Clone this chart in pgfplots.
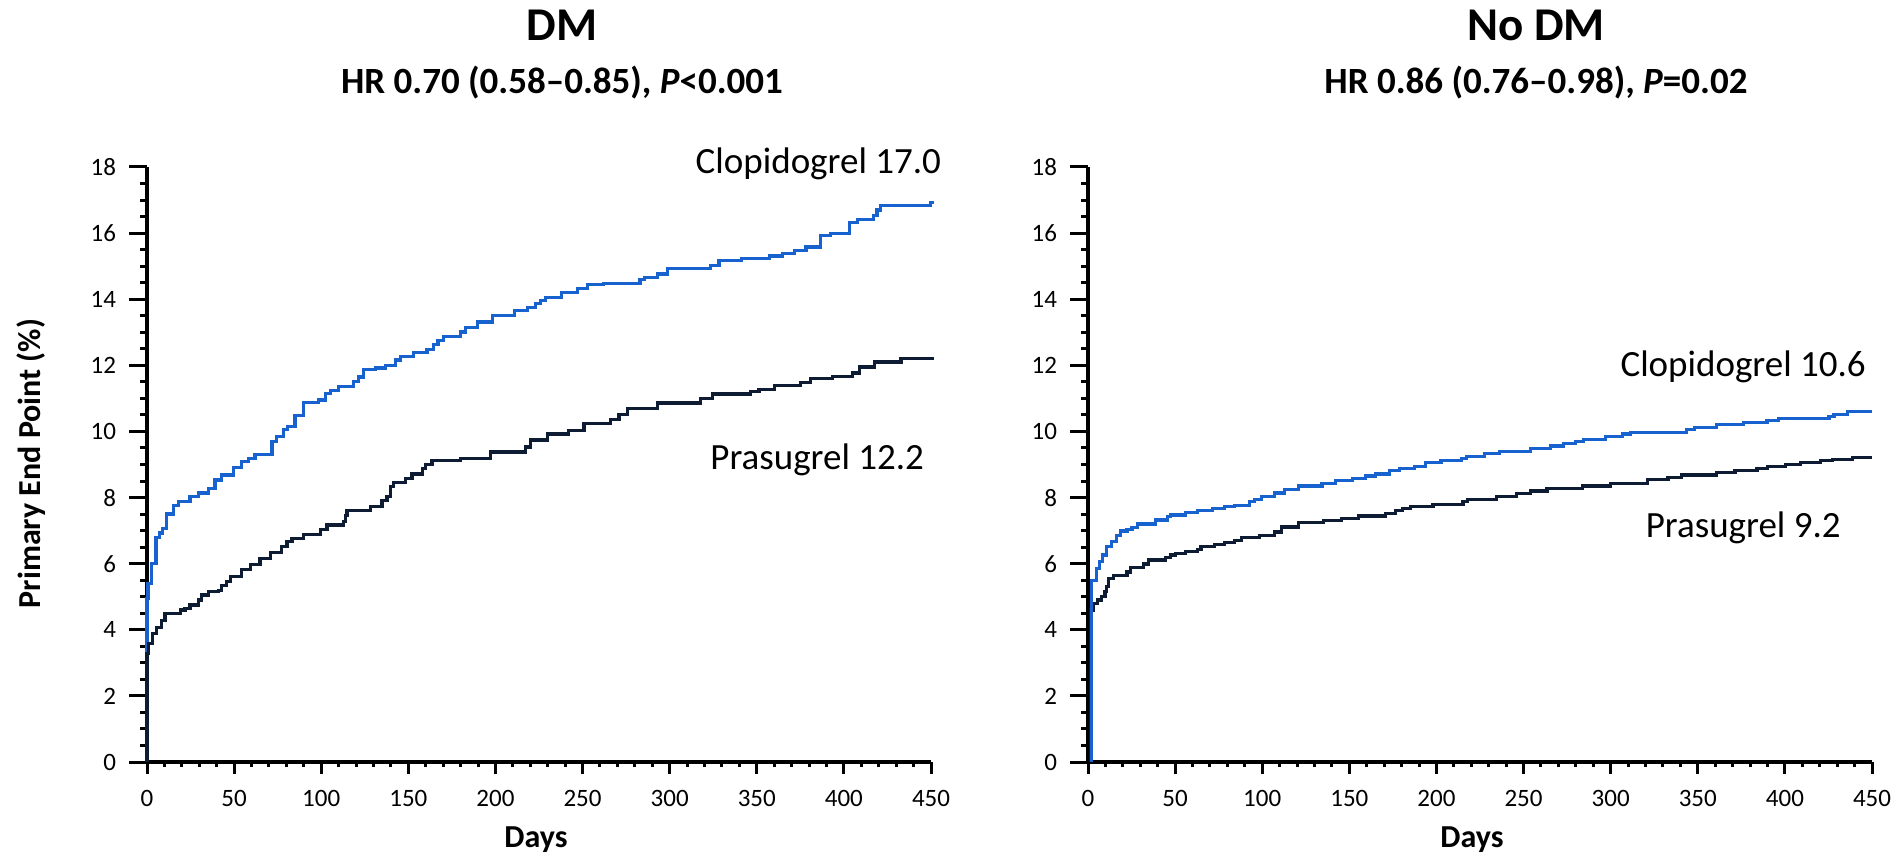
\documentclass[border=0pt]{standalone}
\usepackage{pgfplots}
\pgfplotsset{compat=1.18}
\usepackage{fontspec}
\setmainfont{Carlito}

\definecolor{clopi}{HTML}{1762CF}
\definecolor{prasu}{HTML}{0D1B33}

\pgfplotsset{
  km/.style={
    scale only axis,
    width=392bp, height=297.5bp,
    anchor=south west,
    xmin=0, xmax=450, ymin=0, ymax=18,
    axis lines=left,
    axis line style={-, line width=1.7bp, black},
    xtick={0,50,...,450}, ytick={0,2,...,18},
    minor x tick num=4, minor y tick num=3,
    tick align=outside,
    major tick length=9bp, minor tick length=3.5bp,
    xtick style={/pgfplots/major tick length=6bp, /pgfplots/minor tick length=2.5bp},
    tick style={line width=1.5bp, black},
    tick label style={font=\fontsize{12.5bp}{14bp}\selectfont},
    yticklabel style={xshift=-3bp},
    xticklabel style={yshift=-1.5bp},
    /pgf/number format/assume math mode=true,
    clip=false,
  },
  kmline/.style={const plot, no marks, line width=1.6bp},
}

\begin{document}
\begin{tikzpicture}
\path[use as bounding box] (0,0) rectangle (947.5bp,427bp);

% DM
\begin{axis}[km, at={(73.5bp,46bp)}]
\addplot[kmline, clopi] coordinates {
(0,0)(0,4.95)(0.6,5.4)(2.7,6.0)(5.2,6.8)(7,6.93)(9,7.07)(11.3,7.5)(15.1,7.77)(18,7.87)
(24.7,8.02)(29.5,8.14)(35.2,8.28)(39,8.53)(42.9,8.68)(49.6,8.92)(54.4,9.08)(58.2,9.19)
(62,9.31)(71.7,9.69)(74.5,9.84)(78.4,10.06)(80.5,10.15)(85,10.49)(89.8,10.87)(98.5,10.95)
(102.3,11.15)(105.2,11.25)(110,11.35)(118.6,11.5)(121.4,11.65)(124.3,11.87)(131,11.92)
(136.8,12.0)(142.5,12.16)(145.4,12.26)(153.1,12.38)(160.7,12.48)(164.6,12.64)(167,12.75)
(170.3,12.88)(179.9,13.01)(182.8,13.14)(189.5,13.31)(198.1,13.5)(210.9,13.65)(218.2,13.75)
(223,13.87)(226,13.95)(228.7,14.05)(237.9,14.2)(247.3,14.32)(252.7,14.44)(261.9,14.48)
(283,14.6)(285.6,14.65)(292.9,14.76)(298.7,14.93)(323.6,15.03)(328.3,15.16)(341.2,15.24)
(357.1,15.31)(364.8,15.38)(371.5,15.48)(378.2,15.58)(386.4,15.92)(392.1,16.0)(403,16.32)
(407.9,16.42)(417,16.54)(419,16.7)(420.9,16.84)(449.6,16.92)(452,16.92)
};
\addplot[kmline, prasu] coordinates {
(0,0)(0,3.29)(0.8,3.59)(3.3,3.89)(5.6,4.07)(8.4,4.27)(10.3,4.5)(19,4.6)(21.8,4.65)
(24.7,4.75)(29.5,4.9)(31.4,5.05)(35.2,5.15)(41,5.2)(42.9,5.35)(45.8,5.45)(47.7,5.6)
(54.4,5.83)(59.2,5.98)(64.9,6.16)(70.7,6.33)(77.4,6.51)(80.3,6.66)(83.2,6.76)(89.8,6.89)
(99.4,7.04)(103.3,7.17)(112.8,7.27)(113.8,7.45)(114.8,7.62)(128.2,7.74)(134.9,7.92)
(137.7,8.02)(139.7,8.33)(141.5,8.46)(148.3,8.58)(152.1,8.71)(157.9,8.88)(159.8,9.01)
(163.6,9.11)(179.9,9.18)(197.1,9.38)(217.2,9.53)(220.1,9.74)(229.7,9.92)(242.1,10.04)
(250.8,10.24)(266.1,10.36)(270.9,10.52)(275.7,10.69)(292.9,10.86)(317.8,11.0)(324.5,11.13)
(346.6,11.2)(351.3,11.27)(360,11.38)(375.3,11.47)(381,11.59)(393.5,11.67)(405,11.77)
(408.8,11.95)(417.4,12.1)(432.8,12.2)(452,12.2)
};
\node[anchor=east, font=\fontsize{18.5bp}{21bp}\selectfont] at (axis cs:459.8,18.11) {Clopidogrel 17.0};
\node[anchor=east, font=\fontsize{18.5bp}{21bp}\selectfont] at (axis cs:450,9.13) {Prasugrel 12.2};
\end{axis}

% No DM
\begin{axis}[km, at={(544bp,46bp)}]
\addplot[kmline, prasu] coordinates {
(1.5,0)(1.5,4.6)(3.1,4.8)(5.4,4.9)(7.9,5.0)(9.8,5.15)(10.8,5.3)(11.7,5.55)(14.6,5.65)
(22.4,5.75)(24.3,5.89)(32,5.99)(34.9,6.11)(44.6,6.19)(47.4,6.26)(50.3,6.31)(56.1,6.36)
(62.9,6.44)(64.8,6.53)(72.5,6.59)(78.3,6.64)(84,6.71)(87.9,6.79)(98.5,6.86)(107.2,6.96)
(111,7.11)(120.7,7.24)(135.2,7.3)(145.6,7.37)(155.3,7.44)(170.7,7.52)(176.5,7.62)
(180.5,7.67)(185.3,7.74)(198,7.8)(215.2,7.87)(218,7.94)(234.4,8.02)(246,8.12)(253.8,8.2)
(263.4,8.28)(283.6,8.35)(300,8.43)(321.3,8.55)(332.9,8.61)(340.6,8.68)(360.9,8.75)
(371.4,8.81)(384,8.88)(389.8,8.95)(400.3,9.01)(409,9.05)(420.6,9.11)(427.3,9.15)
(438.9,9.21)(450,9.21)
};
\addplot[kmline, clopi] coordinates {
(1.8,0)(1.8,5.5)(5,5.86)(6.5,6.06)(8.5,6.26)(10.8,6.53)(13.7,6.66)(16.2,6.86)(18.5,6.99)
(22.4,7.04)(25.3,7.1)(28.2,7.2)(38.8,7.32)(45.5,7.42)(47.4,7.47)(56.1,7.54)(62.9,7.62)
(71.5,7.67)(78.3,7.74)(84,7.77)(92.7,7.87)(95.6,7.94)(99.5,8.04)(107.2,8.14)(113,8.25)
(120.8,8.35)(134.3,8.43)(142,8.51)(151.7,8.58)(159.4,8.65)(165.2,8.71)(172.9,8.81)
(178.7,8.88)(187.2,8.93)(193.9,9.05)(202.6,9.11)(214.2,9.18)(217.1,9.23)(227.7,9.33)
(236.4,9.39)(253.8,9.48)(265.3,9.56)(273,9.64)(279.8,9.69)(284.6,9.76)(297.1,9.84)
(306.7,9.92)(311.6,9.96)(316.4,9.98)(343.4,10.06)(348.2,10.12)(360.7,10.22)(376.2,10.27)
(389.7,10.34)(396.4,10.39)(425.3,10.44)(428.2,10.51)(435.9,10.61)(450,10.61)
};
\node[anchor=east, font=\fontsize{18.5bp}{21bp}\selectfont] at (axis cs:450.5,11.94) {Clopidogrel 10.6};
\node[anchor=east, font=\fontsize{18.5bp}{21bp}\selectfont] at (axis cs:436,7.08) {Prasugrel 9.2};
\end{axis}

% titles and axis labels
\node[anchor=base, font=\bfseries\fontsize{23.5bp}{27bp}\selectfont] at (281bp,406.5bp) {DM};
\node[anchor=base, font=\bfseries\fontsize{18.5bp}{22bp}\selectfont] at (281bp,380bp) {HR 0.70 (0.58–0.85), \textit{P}<0.001};
\node[anchor=base, font=\bfseries\fontsize{23.5bp}{27bp}\selectfont] at (768bp,406.5bp) {No DM};
\node[anchor=base, font=\bfseries\fontsize{18.5bp}{22bp}\selectfont] at (768bp,380bp) {HR 0.86 (0.76–0.98), \textit{P}=0.02};
\node[anchor=base, font=\bfseries\fontsize{16bp}{19bp}\selectfont] at (268bp,3.5bp) {Days};
\node[anchor=base, font=\bfseries\fontsize{16bp}{19bp}\selectfont] at (736bp,3.5bp) {Days};
\node[rotate=90, font=\bfseries\fontsize{16bp}{19bp}\selectfont] at (15.5bp,195.25bp) {Primary End Point (\%)};
\end{tikzpicture}
\end{document}
